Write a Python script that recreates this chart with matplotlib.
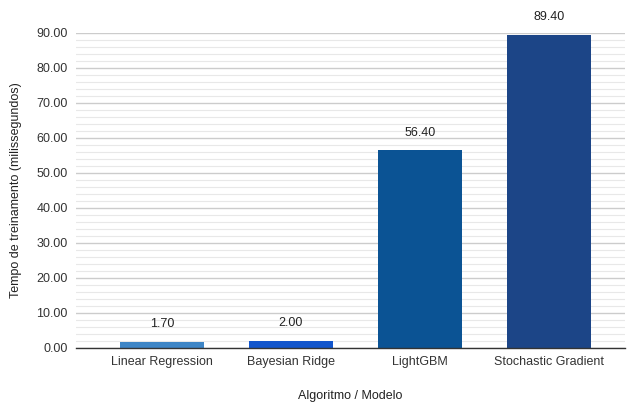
import numpy as np
import matplotlib.pyplot as plt

modelos = ['Linear Regression', 'Bayesian Ridge', 'LightGBM', 'Stochastic Gradient']
tempos = [1.70, 2.00, 56.40, 89.40]
cores = ['#3d85c6', '#1155cc', '#0b5394', '#1c4587']

plt.rcParams['font.family'] = ['Liberation Sans', 'DejaVu Sans']

fig = plt.figure(figsize=(6.33, 4.05), dpi=100)
ax = fig.add_axes([0.120, 0.141, 0.867, 0.778])

x = np.arange(len(modelos))
barras = ax.bar(x, tempos, width=0.65, color=cores, zorder=3)
for b, v in zip(barras, tempos):
    ax.text(b.get_x() + b.get_width() / 2, v + 3.4, f'{v:.2f}',
            ha='center', va='bottom', fontsize=9, color='#222222')

ax.set_xlim(-0.667, 3.59)
ax.set_ylim(0, 90)
ax.set_yticks(np.arange(0, 91, 10))
ax.set_yticks(np.arange(0, 91, 2), minor=True)
ax.set_yticklabels([f'{t:.2f}' for t in range(0, 91, 10)])
ax.set_xticks(x)
ax.set_xticklabels(modelos)

# grade principal e secundária
ax.grid(axis='y', which='major', color='#cccccc', linewidth=1.0, zorder=0)
ax.grid(axis='y', which='minor', color='#e8e8e8', linewidth=0.8, zorder=0)
ax.tick_params(axis='both', which='both', length=0, labelsize=9, colors='#333333')
ax.tick_params(axis='x', pad=6)
ax.tick_params(axis='y', pad=6)

for s in ['top', 'right', 'left']:
    ax.spines[s].set_visible(False)
ax.spines['bottom'].set_color('#333333')
ax.spines['bottom'].set_linewidth(1.0)
ax.spines['bottom'].set_zorder(4)

ax.set_xlabel('Algoritmo / Modelo', fontsize=9, color='#222222', labelpad=16)
ax.set_ylabel('Tempo de treinamento (milissegundos)', fontsize=9, color='#222222', labelpad=10)

fig.savefig('out.png', dpi=100)
